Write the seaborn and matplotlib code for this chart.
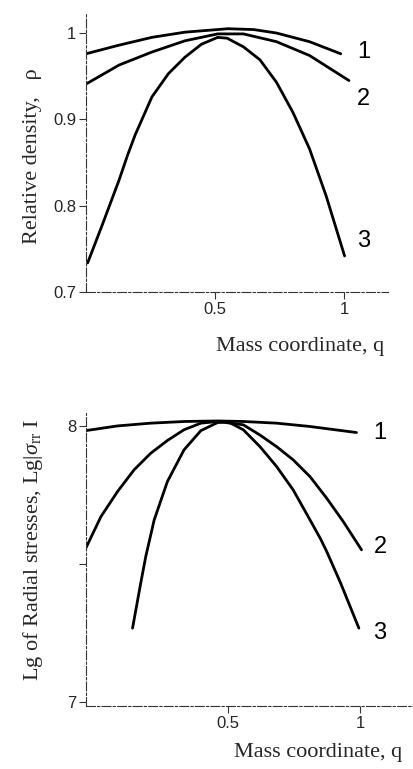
import numpy as np
import pandas as pd
import matplotlib
matplotlib.use("Agg")
import matplotlib.pyplot as plt
import seaborn as sns

sns.set_style("white")
plt.rcParams['font.family'] = ['Liberation Sans', 'DejaVu Sans']
plt.rcParams['mathtext.fontset'] = 'custom'
plt.rcParams['mathtext.rm'] = 'Liberation Serif'
plt.rcParams['mathtext.it'] = 'Liberation Serif:italic'

# ---- top panel: relative density ----
q_top_1 = [0.0, 0.128, 0.255, 0.383, 0.55, 0.65, 0.738, 0.866, 0.987]
rho_1 = [0.976, 0.986, 0.995, 1.001, 1.005, 1.004, 1.0, 0.990, 0.976]
q_top_2 = [0.0, 0.128, 0.255, 0.383, 0.51, 0.61, 0.738, 0.866, 1.019]
rho_2 = [0.941, 0.963, 0.978, 0.991, 0.999, 0.999, 0.990, 0.974, 0.945]
q_top_3 = [0.006, 0.064, 0.128, 0.16, 0.19, 0.255, 0.319, 0.383, 0.447, 0.51,
           0.547, 0.61, 0.674, 0.738, 0.802, 0.866, 0.93, 1.002]
rho_3 = [0.734, 0.779, 0.830, 0.858, 0.882, 0.926, 0.953, 0.972, 0.987, 0.995,
         0.994, 0.984, 0.969, 0.943, 0.908, 0.866, 0.812, 0.742]

# ---- bottom panel: lg of radial stresses ----
q_bot_1 = [-0.039, 0.081, 0.207, 0.333, 0.46, 0.56, 0.684, 0.81, 0.987]
lg_1 = [7.983, 8.0, 8.01, 8.016, 8.018, 8.016, 8.01, 7.998, 7.976]
q_bot_2 = [-0.039, 0.018, 0.081, 0.144, 0.207, 0.27, 0.333, 0.397, 0.46,
           0.558, 0.621, 0.684, 0.747, 0.811, 0.874, 0.937, 1.006]
lg_2 = [7.557, 7.671, 7.762, 7.841, 7.901, 7.947, 7.986, 8.01, 8.016,
        8.004, 7.967, 7.925, 7.877, 7.816, 7.738, 7.653, 7.551]
q_bot_3 = [0.138, 0.169, 0.188, 0.22, 0.27, 0.333, 0.397, 0.46, 0.5,
           0.558, 0.621, 0.684, 0.747, 0.811, 0.851, 0.874, 0.927, 0.996]
lg_3 = [7.267, 7.43, 7.526, 7.659, 7.798, 7.913, 7.983, 8.012, 8.015,
        7.986, 7.925, 7.853, 7.768, 7.659, 7.590, 7.545, 7.43, 7.267]

curve_names = ["1", "2", "3"]
x_ticks = [0.5, 1.0]
x_ticklabels = ["0.5", "1"]
top_yticks = [0.7, 0.8, 0.9, 1.0]
top_yticklabels = ["0.7", "0.8", "0.9", "1"]
bot_yticks = [7.0, 7.5, 8.0]
bot_yticklabels = ["7", "", "8"]

fig = plt.figure(figsize=(4.14, 7.69), dpi=100)
ax1 = fig.add_axes([0.208, 0.620, 0.729, 0.364])
ax2 = fig.add_axes([0.208, 0.082, 0.792, 0.381])

serif = ['Liberation Serif', 'DejaVu Serif']

def style(ax):
    for s in ['top', 'right']:
        ax.spines[s].set_visible(False)
    for s in ['left', 'bottom']:
        ax.spines[s].set_color('#333333')
        ax.spines[s].set_linewidth(0.8)
        ax.spines[s].set_linestyle((0, (8, 2, 2, 2)))
    ax.tick_params(axis='both', direction='out', length=5, width=0.8,
                   color='#333333', labelsize=12, pad=2,
                   left=True, bottom=True)
    ax.grid(False)

top_sets = [(q_top_1, rho_1), (q_top_2, rho_2), (q_top_3, rho_3)]
for (xs, ys), name in zip(top_sets, curve_names):
    df = pd.DataFrame({"q": xs, "v": ys})
    sns.lineplot(data=df, x="q", y="v", ax=ax1, color='black', linewidth=2, sort=False)

bot_sets = [(q_bot_1, lg_1), (q_bot_2, lg_2), (q_bot_3, lg_3)]
for (xs, ys), name in zip(bot_sets, curve_names):
    df = pd.DataFrame({"q": xs, "v": ys})
    sns.lineplot(data=df, x="q", y="v", ax=ax2, color='black', linewidth=2, sort=False)

ax1.set_xlim(0.0, 1.17)
ax1.set_ylim(0.7, 1.024)
ax1.set_xticks(x_ticks)
ax1.set_xticklabels(x_ticklabels)
ax1.set_yticks(top_yticks)
ax1.set_yticklabels(top_yticklabels)
ax1.set_xlabel("")
ax1.set_ylabel("")
style(ax1)

ax2.set_xlim(-0.038, 1.205)
ax2.set_ylim(6.985, 8.047)
ax2.set_xticks(x_ticks)
ax2.set_xticklabels(x_ticklabels)
ax2.set_yticks(bot_yticks)
ax2.set_yticklabels(bot_yticklabels)
ax2.set_xlabel("")
ax2.set_ylabel("")
style(ax2)

# curve numbers
for name, y in zip(curve_names, [0.978, 0.924, 0.759]):
    ax1.text(1.077, y, name, fontsize=17, ha='center', va='center', color='black')
for name, y in zip(curve_names, [7.975, 7.56, 7.25]):
    ax2.text(1.076, y, name, fontsize=17, ha='center', va='center', color='black')

# axis titles
fig.text(300 / 414, 1 - 347 / 769, "Mass coordinate, q", family=serif,
         fontsize=16, ha='center', va='center')
fig.text(318 / 414, 1 - 753 / 769, "Mass coordinate, q", family=serif,
         fontsize=16, ha='center', va='center')
fig.text(33 / 414, 1 - 156 / 769, "Relative density,   \u03c1", family=serif,
         fontsize=16, ha='center', va='center', rotation=90)
fig.text(33 / 414, 1 - 550 / 769, "Lg of Radial stresses, Lg|$\\sigma_{\\rm rr}$ I",
         family=serif, fontsize=16, ha='center', va='center', rotation=90)

fig.savefig("out.png", dpi=100)
